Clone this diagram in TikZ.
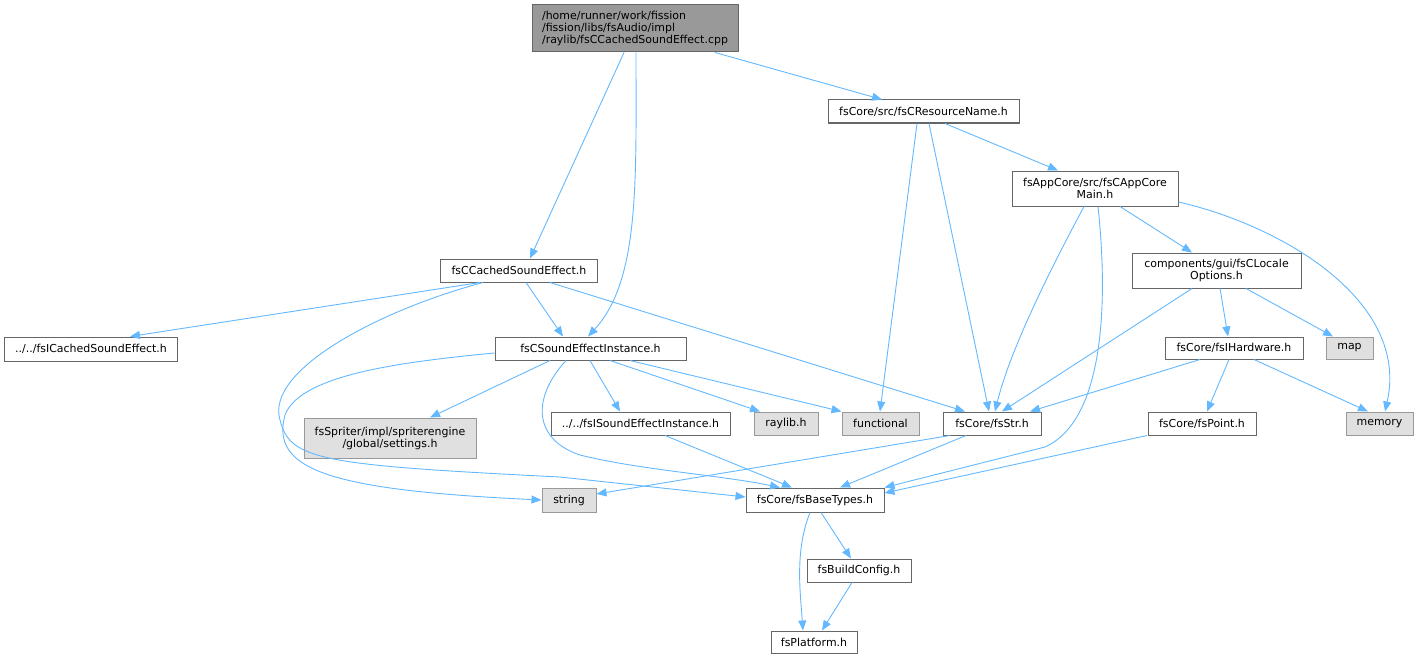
\documentclass[tikz,border=0pt]{standalone}
\usepackage{fontspec}
\setmainfont{DejaVu Sans}
\usetikzlibrary{arrows.meta}
\definecolor{edgec}{HTML}{63B8FF}
\definecolor{bordc}{HTML}{666666}
\definecolor{gbord}{HTML}{999999}
\definecolor{gfill}{HTML}{E0E0E0}
\definecolor{mfill}{HTML}{999999}
\tikzset{
  box/.style={draw=bordc, line width=1bp, fill=white, inner sep=0pt, align=center,
    font=\fontsize{11}{12}\selectfont},
  gbox/.style={box, draw=gbord, fill=gfill},
  mbox/.style={box, fill=mfill, align=left},
  dep/.style={draw=edgec, line width=0.9bp, -{Triangle[length=10bp,width=8bp]}},
}
\newcommand{\bx}[7]{\node[#1, minimum width=#2bp, minimum height=#3bp] (#4) at (#5,#6) {#7};}
\begin{document}
\begin{tikzpicture}[x=1bp,y=-1bp]
\useasboundingbox (0,0) rectangle (1418,659);
% nodes
\bx{mbox}{206}{47}{main}{635}{28.5}{/home/runner/work/fission\\/fission/libs/fsAudio/impl\\/raylib/fsCCachedSoundEffect.cpp}
\bx{box}{191}{23}{res}{923.5}{111.5}{fsCore/src/fsCResourceName.h}
\bx{box}{166}{35}{app}{1095}{188.5}{fsAppCore/src/fsCAppCore\\Main.h}
\bx{box}{169}{35}{loc}{1216.5}{270.5}{components/gui/fsCLocale\\Options.h}
\bx{box}{138}{22}{hw}{1234}{348}{fsCore/fsIHardware.h}
\bx{gbox}{47}{22}{map}{1349.5}{348}{map}
\bx{gbox}{67}{23}{mem}{1379.5}{423.5}{memory}
\bx{box}{108}{23}{pt}{1202}{423.5}{fsCore/fsPoint.h}
\bx{box}{98}{23}{str}{992}{423.5}{fsCore/fsStr.h}
\bx{gbox}{77}{23}{fun}{880.5}{423.5}{functional}
\bx{gbox}{64}{23}{ray}{786}{423.5}{raylib.h}
\bx{box}{179}{23}{ise}{640.5}{423.5}{../../fsISoundEffectInstance.h}
\bx{box}{138}{24}{base}{815}{500}{fsCore/fsBaseTypes.h}
\bx{gbox}{54}{24}{string}{569}{500}{string}
\bx{box}{104}{23}{bc}{859}{570.5}{fsBuildConfig.h}
\bx{box}{86}{22}{plat}{814}{642}{fsPlatform.h}
\bx{box}{191}{23}{sei}{590.5}{348.5}{fsCSoundEffectInstance.h}
\bx{box}{157}{23}{cse}{519}{270.5}{fsCCachedSoundEffect.h}
\bx{box}{172}{24}{ics}{91}{349}{../../fsICachedSoundEffect.h}
\bx{gbox}{172}{40}{set}{390}{438}{fsSpriter/impl/spriterengine\\/global/settings.h}
% edges
\draw[dep] (main.south -| 624,0) -- (cse.north -| 530,0);
\draw[dep] (main.south -| 636,0) .. controls (636,180) and (640,280) .. (sei.north -| 588,0);
\draw[dep] (main.south -| 715,0) -- (res.north -| 882,0);
\draw[dep] (res.south -| 945,0) -- (app.north -| 1058,0);
\draw[dep] (res.south -| 917,0) -- (fun.north -| 880,0);
\draw[dep] (res.south -| 929,0) -- (str.north -| 989,0);
\draw[dep] (app.south -| 1084,0) .. controls (1050,270) and (1010,350) .. (str.north -| 995,0);
\draw[dep] (app.south -| 1098,0) .. controls (1108,300) and (1105,420) .. (1045,447) -- (base.north east);
\draw[dep] (app.south -| 1120,0) -- (loc.north -| 1192,0);
\draw[dep] (app.east |- 0,202) .. controls (1280,225) and (1410,300) .. (mem.north -| 1385,0);
\draw[dep] (loc.south -| 1192,0) -- (str.north -| 1002,0);
\draw[dep] (loc.south -| 1220,0) -- (hw.north -| 1228,0);
\draw[dep] (loc.south -| 1246,0) -- (map.north -| 1333,0);
\draw[dep] (hw.south -| 1200,0) -- (str.north -| 1030,0);
\draw[dep] (hw.south -| 1229,0) -- (pt.north -| 1207,0);
\draw[dep] (hw.south -| 1254,0) -- (mem.north -| 1368,0);
\draw[dep] (pt.south -| 1147,0) -- (base.north east |- 0,493);
\draw[dep] (str.south -| 966,0) -- (base.north -| 840,0);
\draw[dep] (str.south -| 950,0) -- (string.east |- 0,494);
\draw[dep] (cse.south -| 480,0) -- (ics.north -| 130,0);
\draw[dep] (cse.south -| 526,0) -- (sei.north -| 563,0);
\draw[dep] (cse.south -| 550,0) -- (str.north -| 965,0);
\draw[dep] (cse.south -| 483,0) .. controls (380,310) and (265,370) .. (280,420) .. controls (290,460) and (320,465) .. (560,477) -- (base.west |- 0,497);
\draw[dep] (sei.west |- 0,353) .. controls (400,362) and (300,375) .. (285,415) .. controls (270,470) and (330,490) .. (string.west |- 0,500);
\draw[dep] (sei.south -| 550,0) -- (set.north -| 430,0);
\draw[dep] (sei.south -| 566,0) .. controls (530,400) and (535,440) .. (580,455) .. controls (640,470) and (720,475) .. (base.north -| 780,0);
\draw[dep] (sei.south -| 590,0) -- (ise.north -| 620,0);
\draw[dep] (sei.south -| 610,0) -- (ray.north -| 760,0);
\draw[dep] (sei.south -| 630,0) -- (fun.north west);
\draw[dep] (ise.south -| 665,0) -- (base.north -| 792,0);
\draw[dep] (base.south -| 821,0) -- (bc.north -| 851,0);
\draw[dep] (base.south -| 810,0) .. controls (795,550) and (800,590) .. (plat.north -| 803,0);
\draw[dep] (bc.south -| 852,0) -- (plat.north -| 822,0);
\end{tikzpicture}
\end{document}
